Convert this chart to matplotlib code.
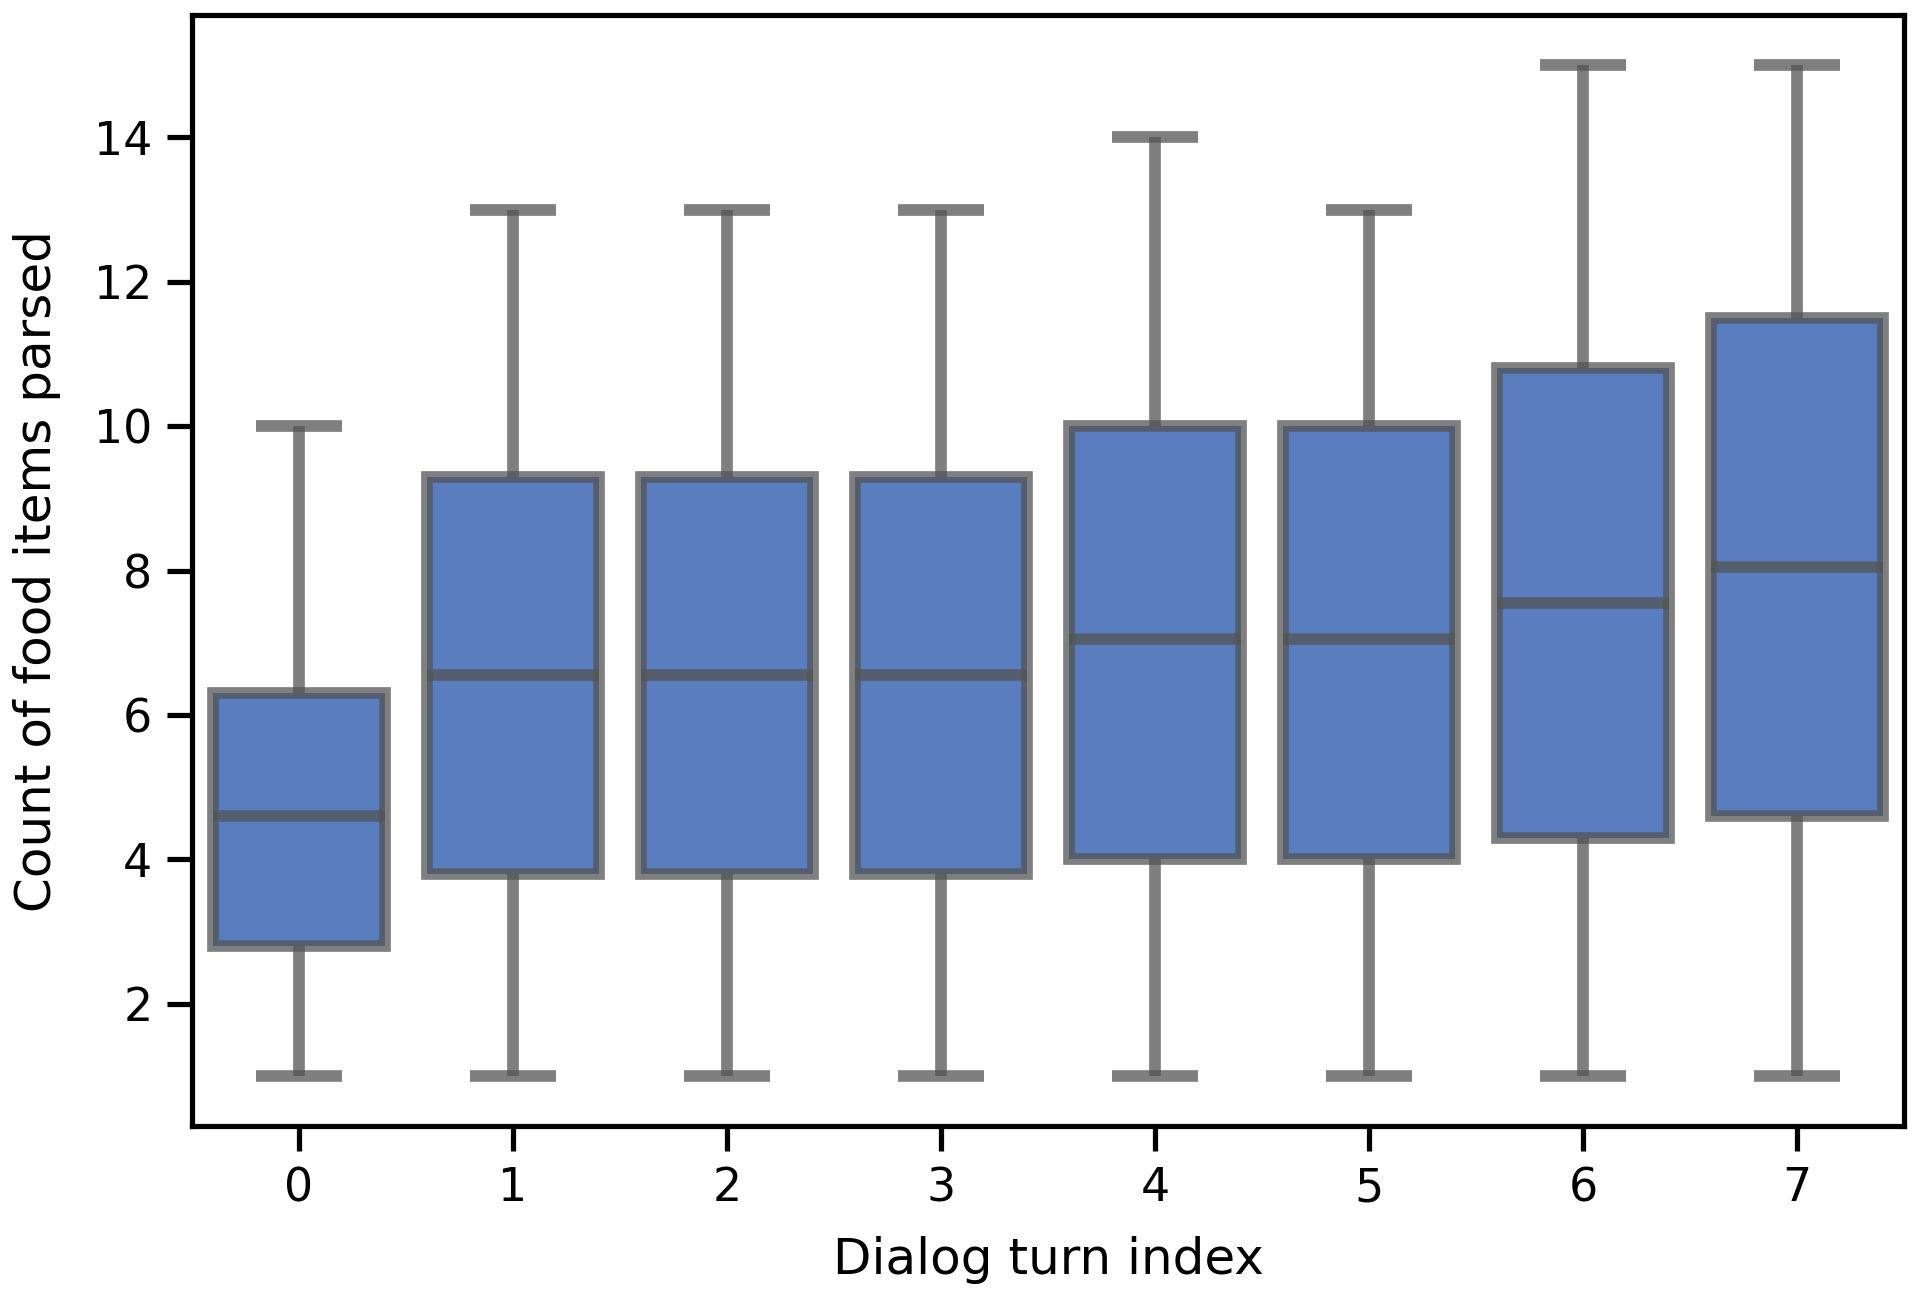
import matplotlib
matplotlib.use('Agg')
import matplotlib.pyplot as plt
import numpy as np

# values
turns = [0, 1, 2, 3, 4, 5, 6, 7]
q1 = [2.8, 3.8, 3.8, 3.8, 4.0, 4.0, 4.3, 4.6]
med = [4.6, 6.55, 6.55, 6.55, 7.05, 7.05, 7.55, 8.05]
q3 = [6.3, 9.3, 9.3, 9.3, 10.0, 10.0, 10.8, 11.5]
whis_lo = [1, 1, 1, 1, 1, 1, 1, 1]
whis_hi = [10, 13, 13, 13, 14, 13, 15, 15]

face = '#597dbf'
line = (0.329, 0.329, 0.329, 0.75)
lw = 2.8

stats = []
for i in range(len(turns)):
    stats.append({'med': med[i], 'q1': q1[i], 'q3': q3[i],
                  'whislo': whis_lo[i], 'whishi': whis_hi[i],
                  'fliers': [], 'label': str(turns[i])})

fig = plt.figure(figsize=(6.4, 4.34), dpi=300)
ax = fig.add_subplot(111)
fig.subplots_adjust(left=0.1, right=0.9917, top=0.9887, bottom=0.1348)

ax.bxp(stats, positions=turns, widths=0.8, patch_artist=True,
       showfliers=False, capwidths=0.4,
       boxprops=dict(facecolor=face, edgecolor=line, linewidth=lw),
       whiskerprops=dict(color=line, linewidth=lw, solid_capstyle='butt'),
       capprops=dict(color=line, linewidth=lw, solid_capstyle='butt'),
       medianprops=dict(color=line, linewidth=lw, solid_capstyle='butt'))

ax.set_xlim(-0.5, 7.5)
ax.set_yticks(np.arange(2, 15, 2))
ax.set_xlabel('Dialog turn index', fontsize=12, labelpad=6)
ax.set_ylabel('Count of food items parsed', fontsize=12, labelpad=8)
ax.tick_params(labelsize=11, length=6, width=1.25)
for s in ax.spines.values():
    s.set_linewidth(1.25)

plt.savefig('out.png', dpi=300)
plt.close()
